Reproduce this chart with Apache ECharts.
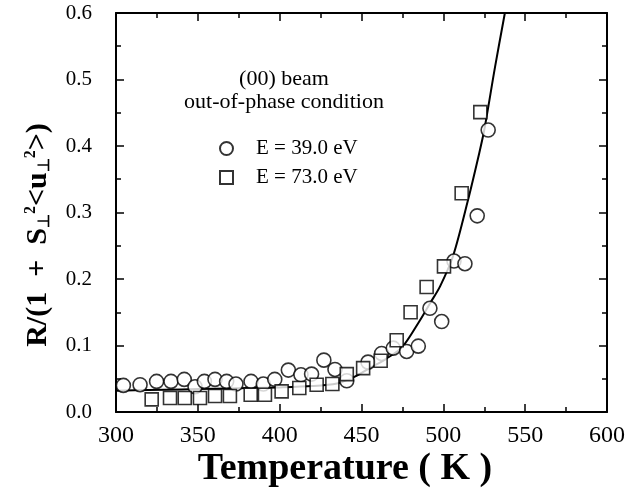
<!DOCTYPE html>
<html>
<head>
<meta charset="utf-8">
<script src="https://cdn.jsdelivr.net/npm/echarts@6/dist/echarts.min.js"></script>
<style>
  html, body { margin: 0; padding: 0; background: #fff; }
  #chart { width: 642px; height: 491px; }
</style>
</head>
<body>
<div id="chart"></div>
<script>
// E = 39.0 eV (circles)
var tempCircle = [304.5, 314.7, 324.8, 333.6, 341.7, 348.3, 354, 360.5, 367.6, 373.3, 382.5, 390, 397, 405.3, 413, 419.5, 427, 433.8, 441, 454, 462.3, 469.4, 477.6, 484.7, 491.8, 499, 506.5, 513.2, 520.7, 527.4];
var rCircle = [0.040, 0.041, 0.046, 0.046, 0.049, 0.038, 0.046, 0.049, 0.046, 0.042, 0.046, 0.042, 0.049, 0.063, 0.056, 0.057, 0.078, 0.064, 0.047, 0.075, 0.088, 0.096, 0.091, 0.099, 0.156, 0.136, 0.227, 0.223, 0.295, 0.424];

// E = 73.0 eV (squares)
var tempSquare = [321.8, 333, 342, 351.3, 360.5, 369.6, 382.3, 391, 401.2, 412, 422.6, 432.2, 441, 451, 461.7, 471.5, 480, 489.8, 500.4, 511.2, 522.6];
var rSquare = [0.019, 0.021, 0.021, 0.021, 0.024, 0.024, 0.026, 0.026, 0.031, 0.036, 0.041, 0.042, 0.057, 0.066, 0.077, 0.108, 0.150, 0.188, 0.219, 0.329, 0.451];

// fitted curve
var tempCurve = [300, 320, 340, 360, 380, 400, 420, 435, 445, 455, 465, 475, 485, 492, 498, 506, 515, 522, 525, 531.6, 537.6];
var rCurve = [0.032, 0.033, 0.034, 0.035, 0.036, 0.037, 0.039, 0.043, 0.052, 0.066, 0.080, 0.098, 0.135, 0.164, 0.189, 0.235, 0.318, 0.390, 0.424, 0.519, 0.600];

var seriesNames = ['E = 39.0 eV', 'E = 73.0 eV'];
var legendHead = ['(00) beam', 'out-of-phase condition'];

function pairs(xs, ys) {
    var out = [];
    for (var i = 0; i < xs.length; i++) out.push([xs[i], ys[i]]);
    return out;
}

var font = 'Liberation Serif';
var myChart = echarts.init(document.getElementById('chart'));

var axisCommon = {
    type: 'value',
    axisLine: { show: true, onZero: false, lineStyle: { color: '#000', width: 2 } },
    axisTick: { show: true, inside: true, length: 8, lineStyle: { color: '#000', width: 1.5 } },
    minorTick: { show: true, splitNumber: 2, length: 5, lineStyle: { color: '#000', width: 1.5 } },
    splitLine: { show: false },
    minorSplitLine: { show: false }
};

option = {
    animation: false,
    backgroundColor: '#fff',
    grid: { left: 116, right: 35, top: 13, bottom: 79 },
    xAxis: [
        echarts.util.merge({
            min: 300, max: 600, interval: 50, position: 'bottom',
            axisLabel: { fontFamily: font, fontSize: 24, color: '#000', margin: 12 }
        }, axisCommon),
        echarts.util.merge({
            min: 300, max: 600, interval: 50, position: 'top',
            axisLabel: { show: false }
        }, axisCommon)
    ],
    yAxis: [
        echarts.util.merge({
            min: 0, max: 0.6, interval: 0.1, position: 'left',
            axisLabel: { fontFamily: font, fontSize: 21, color: '#000', margin: 24,
                formatter: function (v) { return v.toFixed(1); } }
        }, axisCommon),
        echarts.util.merge({
            min: 0, max: 0.6, interval: 0.1, position: 'right',
            axisLabel: { show: false }
        }, axisCommon)
    ],
    legend: {
        data: seriesNames,
        orient: 'vertical',
        left: 214,
        top: 133,
        itemWidth: 13,
        itemHeight: 13,
        itemGap: 8,
        textStyle: { fontFamily: font, fontSize: 21, color: '#000', padding: [0, 0, 0, 18] }
    },
    graphic: [
        {
            type: 'text',
            style: { text: legendHead.join('\n'), x: 284, y: 68, font: '22px "Liberation Serif"',
                fill: '#000', textAlign: 'center', lineHeight: 23 }
        },
        {
            type: 'text',
            style: { text: 'Temperature ( K )', x: 345, y: 469, font: 'bold 38px "Liberation Serif"',
                fill: '#000', textAlign: 'center', textVerticalAlign: 'middle' }
        },
        {
            type: 'text',
            x: 38, y: 235, rotation: Math.PI / 2,
            style: {
                text: 'R/(1  +  S{sub|⊥}{sup|2}<u{sub|⊥}{sup|2}>)',
                font: 'bold 30px "Liberation Serif"',
                fill: '#000', align: 'center', verticalAlign: 'middle',
                rich: {
                    sub: { fontFamily: font, fontWeight: 'bold', fontSize: 16, verticalAlign: 'bottom', lineHeight: 16 },
                    sup: { fontFamily: font, fontWeight: 'bold', fontSize: 16, verticalAlign: 'top', lineHeight: 16 }
                }
            }
        }
    ],
    series: [
        {
            name: 'fit',
            type: 'line',
            data: pairs(tempCurve, rCurve),
            smooth: 0.3,
            showSymbol: false,
            lineStyle: { color: '#000', width: 2 },
            z: 1
        },
        {
            name: seriesNames[0],
            type: 'scatter',
            data: pairs(tempCircle, rCircle),
            symbol: 'circle',
            symbolSize: 14,
            itemStyle: { color: '#fff', borderColor: '#000', borderWidth: 1.6 },
            z: 3
        },
        {
            name: seriesNames[1],
            type: 'scatter',
            data: pairs(tempSquare, rSquare),
            symbol: 'rect',
            symbolSize: 13,
            itemStyle: { color: '#fff', borderColor: '#000', borderWidth: 1.6 },
            z: 4
        }
    ]
};

myChart.setOption(option);
</script>
</body>
</html>
